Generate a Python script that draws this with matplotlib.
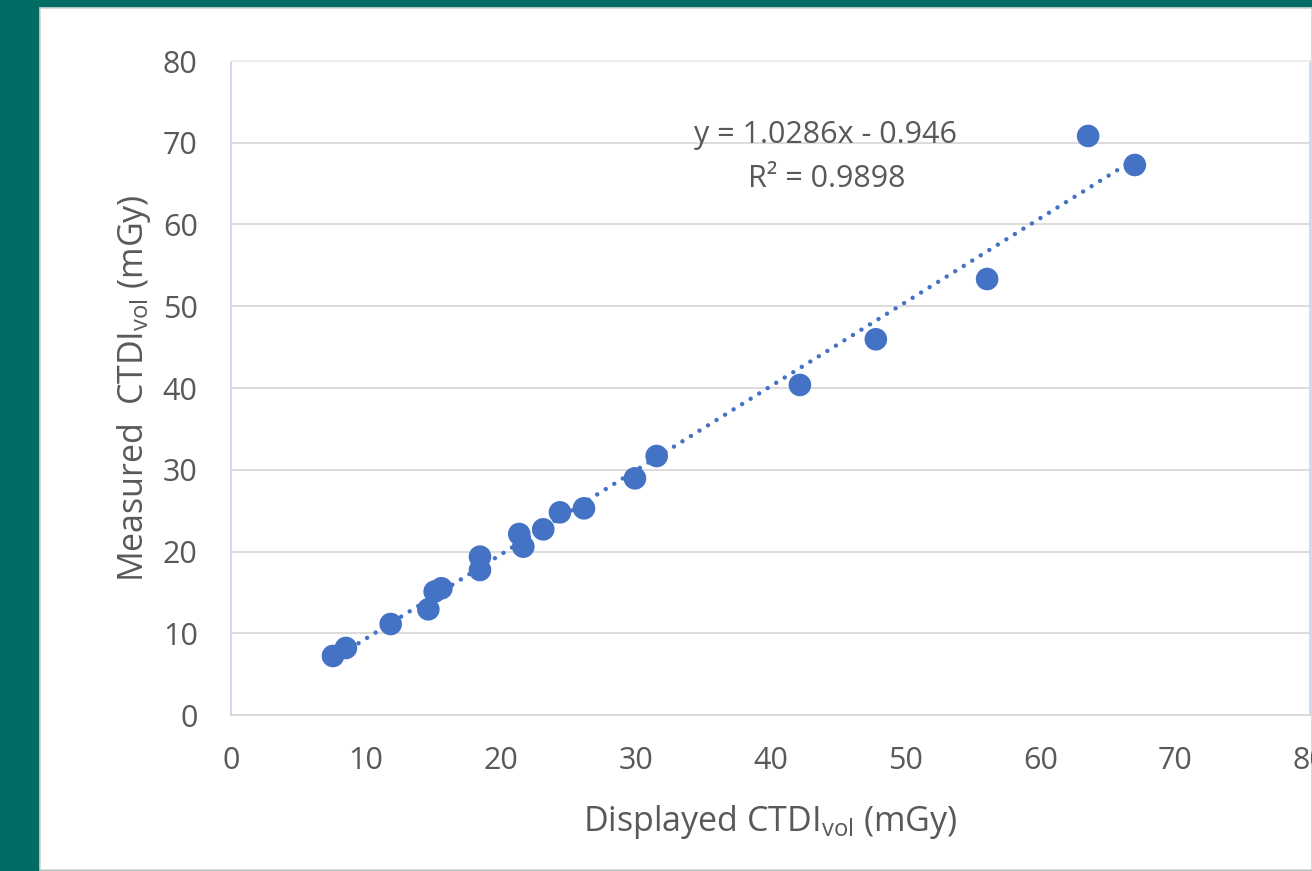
import matplotlib
matplotlib.use("Agg")
import matplotlib.pyplot as plt
from matplotlib.patches import Rectangle
import numpy as np

plt.rcParams['font.family'] = ['Open Sans', 'DejaVu Sans']
plt.rcParams['mathtext.fontset'] = 'custom'
plt.rcParams['mathtext.rm'] = 'Open Sans'
plt.rcParams['mathtext.it'] = 'Open Sans:italic'
plt.rcParams['mathtext.bf'] = 'Open Sans:bold'

# Data (displayed vs measured CTDIvol, mGy)
displayed = [7.56, 8.52, 11.84, 14.63, 15.1, 15.6, 18.46, 18.46, 21.37, 21.67,
             23.15, 24.39, 26.17, 29.95, 31.56, 42.18, 47.81, 56.06, 63.55, 67.01]
measured = [7.22, 8.2, 11.13, 12.93, 15.1, 15.5, 19.37, 17.74, 22.14, 20.59,
            22.71, 24.79, 25.28, 28.95, 31.68, 40.37, 45.96, 53.33, 70.83, 67.28]
slope = 1.0286
intercept = -0.946
r2 = 0.9898
x_ticks = [0, 10, 20, 30, 40, 50, 60, 70, 80]
y_ticks = [0, 10, 20, 30, 40, 50, 60, 70, 80]

W, H = 1312, 871
fig = plt.figure(figsize=(W / 100, H / 100), dpi=100)
fig.patch.set_facecolor('#006C63')
bg = Rectangle((40 / W, 1.5 / H), (W - 40) / W, (869 - 8) / H,
               transform=fig.transFigure, facecolor='white',
               edgecolor='#d4d4d4', linewidth=1.2, zorder=-10)
fig.patches.append(bg)

ax = fig.add_axes([231 / W, (H - 715) / H, (1310 - 231) / W, (715 - 61) / H])
ax.set_zorder(1)
ax.set_facecolor('white')
ax.set_xlim(0, 80)
ax.set_ylim(0, 80)
ax.set_xticks(x_ticks)
ax.set_yticks(y_ticks)
ax.tick_params(axis='both', length=0, labelsize=22, labelcolor='#595959')
ax.tick_params(axis='x', pad=22)
ax.tick_params(axis='y', pad=24)
ax.grid(axis='y', color='#d9d9d9', linewidth=1.3)
ax.grid(axis='x', visible=False)
ax.set_axisbelow(True)
ax.spines['left'].set_color('#c9d6ec')
ax.spines['right'].set_color('#c9d6ec')
ax.spines['top'].set_color('#efefef')
ax.spines['bottom'].set_color('#d9d9d9')
for s in ax.spines.values():
    s.set_linewidth(1.3)

xs = np.array([min(displayed), max(displayed)])
ax.plot(xs, slope * xs + intercept, color='#4472C4', linewidth=3.2,
        linestyle=(0, (0.01, 2.25)), dash_capstyle='round', zorder=2)
ax.scatter(displayed, measured, s=265, color='#4472C4', edgecolors='none', zorder=3)

ax.text(40.0 + (826 - 771) / 13.49, 80 - (135 - 61) / 8.175, 'y = 1.0286x - 0.946',
        ha='center', va='center', fontsize=22, color='#595959')
ax.text(40.0 + (827 - 771) / 13.49, 80 - (179 - 61) / 8.175, 'R² = 0.9898',
        ha='center', va='center', fontsize=22, color='#595959')

ax.set_xlabel('Displayed CTDI$_{\\mathrm{vol}}$ (mGy)', fontsize=24.5, color='#595959', labelpad=20)
ax.set_ylabel('Measured  CTDI$_{\\mathrm{vol}}$ (mGy)', fontsize=24.5, color='#595959', labelpad=7)

fig.savefig('out.png', dpi=100, facecolor=fig.get_facecolor())
